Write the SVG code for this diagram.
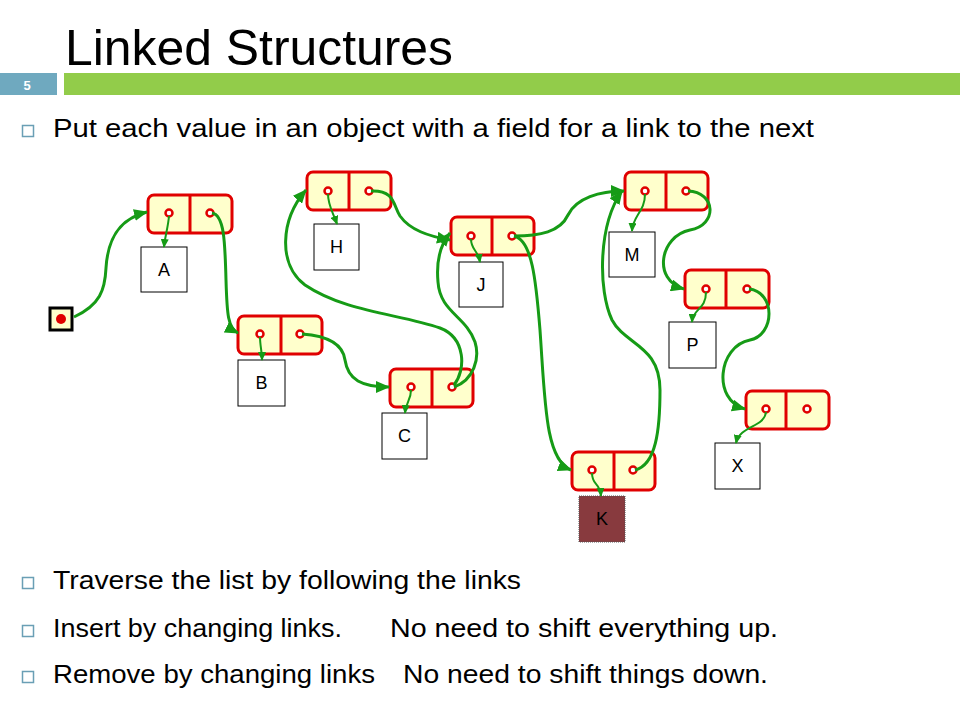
<svg xmlns="http://www.w3.org/2000/svg" width="960" height="720" viewBox="0 0 960 720">
<defs>
<style>
.t{font-family:"Liberation Sans",Arial,sans-serif;fill:#000}
.title{font-size:50px}
.body{font-size:25px}
.lbl{font-size:18px;text-anchor:middle}
.cell{fill:#FFFFCC;stroke:#E00000;stroke-width:3}
.div{stroke:#E00000;stroke-width:3}
.dot{fill:#FFFFFF;stroke:#E00000;stroke-width:2.5}
.val{fill:#FFFFFF;stroke:#000;stroke-width:1}
.lk{fill:none;stroke:#169B16;stroke-width:3;marker-end:url(#ah)}
.vl{fill:none;stroke:#169B16;stroke-width:2;marker-end:url(#as)}
.bul{fill:none;stroke:#6A9FB5;stroke-width:1.5}
</style>
<marker id="ah" markerWidth="14" markerHeight="12" refX="13" refY="6" orient="auto" markerUnits="userSpaceOnUse"><path d="M0,0 L14,6 L0,12 z" fill="#169B16"/></marker>
<marker id="as" markerWidth="9" markerHeight="8" refX="8" refY="4" orient="auto" markerUnits="userSpaceOnUse"><path d="M0,0 L9,4 L0,8 z" fill="#169B16"/></marker>
</defs>
<rect width="960" height="720" fill="#FFFFFF"/>
<g id="header">
<text class="t title" x="65" y="65" textLength="388" lengthAdjust="spacingAndGlyphs">Linked Structures</text>
<rect x="0" y="73" width="57" height="22" fill="#6FA9BF"/>
<text x="27" y="90" font-family="Liberation Sans,Arial,sans-serif" font-size="13" font-weight="bold" fill="#FFFFFF" text-anchor="middle">5</text>
<rect x="64" y="73" width="896" height="22" fill="#92CC4A"/>
</g>
<g id="bullets">
<rect class="bul" x="22.5" y="125.5" width="11" height="11"/>
<text class="t body" x="53" y="137" textLength="761" lengthAdjust="spacingAndGlyphs">Put each value in an object with a field for a link to the next</text>
<rect class="bul" x="22.5" y="577.5" width="11" height="11"/>
<text class="t body" x="53" y="589" textLength="468" lengthAdjust="spacingAndGlyphs">Traverse the list by following the links</text>
<rect class="bul" x="22.5" y="625.5" width="11" height="11"/>
<text class="t body" y="637"><tspan x="53" textLength="289" lengthAdjust="spacingAndGlyphs">Insert by changing links.</tspan><tspan x="390" textLength="388" lengthAdjust="spacingAndGlyphs">No need to shift everything up.</tspan></text>
<rect class="bul" x="22.5" y="671.5" width="11" height="11"/>
<text class="t body" y="683"><tspan x="53" textLength="322" lengthAdjust="spacingAndGlyphs">Remove by changing links</tspan><tspan x="403" textLength="365" lengthAdjust="spacingAndGlyphs">No need to shift things down.</tspan></text>
</g>
<g id="start">
<rect x="50" y="308" width="22" height="22" fill="#FFFFCC" stroke="#000" stroke-width="3"/>
<circle cx="61" cy="319" r="5" fill="#E00000"/>
</g>
<g id="node-A">
<rect class="cell" x="148" y="195" width="84" height="38" rx="6"/>
<line class="div" x1="190" y1="195" x2="190" y2="233"/>
<circle class="dot" cx="169" cy="213" r="3.5"/><circle class="dot" cx="210" cy="213" r="3.5"/>
<rect class="val" x="141" y="247" width="46" height="45"/>
<text class="t lbl" x="164" y="276">A</text>
</g>
<g id="node-B">
<rect class="cell" x="238" y="316" width="84" height="38" rx="6"/>
<line class="div" x1="281" y1="316" x2="281" y2="354"/>
<circle class="dot" cx="260" cy="334" r="3.5"/><circle class="dot" cx="300" cy="334" r="3.5"/>
<rect class="val" x="238" y="360" width="47" height="46"/>
<text class="t lbl" x="261.5" y="389">B</text>
</g>
<g id="node-H">
<rect class="cell" x="307" y="172" width="84" height="38" rx="6"/>
<line class="div" x1="349" y1="172" x2="349" y2="210"/>
<circle class="dot" cx="328" cy="191" r="3.5"/><circle class="dot" cx="369" cy="191" r="3.5"/>
<rect class="val" x="314" y="224" width="45" height="46"/>
<text class="t lbl" x="336.5" y="253">H</text>
</g>
<g id="node-J">
<rect class="cell" x="451" y="217" width="83" height="38" rx="6"/>
<line class="div" x1="492" y1="217" x2="492" y2="255"/>
<circle class="dot" cx="471" cy="236" r="3.5"/><circle class="dot" cx="512" cy="236" r="3.5"/>
<rect class="val" x="459" y="262" width="44" height="45"/>
<text class="t lbl" x="481" y="291">J</text>
</g>
<g id="node-C">
<rect class="cell" x="390" y="369" width="83" height="38" rx="6"/>
<line class="div" x1="432" y1="369" x2="432" y2="407"/>
<circle class="dot" cx="411" cy="387" r="3.5"/><circle class="dot" cx="452" cy="387" r="3.5"/>
<rect class="val" x="382" y="413" width="45" height="46"/>
<text class="t lbl" x="404.5" y="442">C</text>
</g>
<g id="node-M">
<rect class="cell" x="625" y="172" width="83" height="38" rx="6"/>
<line class="div" x1="666" y1="172" x2="666" y2="210"/>
<circle class="dot" cx="645" cy="191" r="3.5"/><circle class="dot" cx="686" cy="191" r="3.5"/>
<rect class="val" x="609" y="232" width="46" height="45"/>
<text class="t lbl" x="632" y="261">M</text>
</g>
<g id="node-P">
<rect class="cell" x="685" y="270" width="84" height="38" rx="6"/>
<line class="div" x1="726" y1="270" x2="726" y2="308"/>
<circle class="dot" cx="706" cy="289" r="3.5"/><circle class="dot" cx="747" cy="289" r="3.5"/>
<rect class="val" x="669" y="322" width="47" height="46"/>
<text class="t lbl" x="692.5" y="351">P</text>
</g>
<g id="node-X">
<rect class="cell" x="746" y="391" width="83" height="38" rx="6"/>
<line class="div" x1="786" y1="391" x2="786" y2="429"/>
<circle class="dot" cx="766" cy="409" r="3.5"/><circle class="dot" cx="807" cy="409" r="3.5"/>
<rect class="val" x="715" y="443" width="45" height="46"/>
<text class="t lbl" x="737.5" y="472">X</text>
</g>
<g id="node-K">
<rect class="cell" x="572" y="452" width="83" height="38" rx="6"/>
<line class="div" x1="614" y1="452" x2="614" y2="490"/>
<circle class="dot" cx="592" cy="470" r="3.5"/><circle class="dot" cx="633" cy="470" r="3.5"/>
<rect x="579" y="496" width="46" height="46" fill="#883A3E" stroke="#555" stroke-width="1" stroke-dasharray="1 1"/>
<text class="t lbl" x="602" y="525">K</text>
</g>
<g id="connectors">
<path class="lk" d="M74,317 C100,305 105,290 106,268 C108,235 122,218 147,212"/>
<path class="lk" d="M212,213 C224,215 225,240 226,280 C227,315 228,328 238,333"/>
<path class="lk" d="M302,334 C330,336 343,345 345,360 C348,380 362,387 389,387"/>
<path class="lk" d="M454,385 C466,370 466,338 440,328 C400,314 345,312 305,285 C278,265 280,220 306,190"/>
<path class="lk" d="M454,387 C474,380 480,358 475,342 C466,316 440,312 438,282 C436,260 440,245 450,233"/>
<path class="lk" d="M371,191 C395,190 393,205 400,216 C410,230 428,236 450,240"/>
<path class="lk" d="M514,236 C540,236 560,232 568,215 C576,198 600,191 624,191"/>
<path class="lk" d="M514,236 C532,240 536,280 540,330 C545,400 545,460 571,470"/>
<path class="lk" d="M635,470 C656,465 660,430 660,390 C660,345 625,345 612,320 C598,290 598,225 622,191"/>
<path class="lk" d="M688,191 C716,192 718,225 690,230 C660,236 652,280 684,289"/>
<path class="lk" d="M749,289 C776,292 775,335 750,340 C718,346 712,400 745,409"/>
<path class="vl" d="M169,216 C168,228 165,236 164,247"/>
<path class="vl" d="M260,337 C260,345 262,352 262,360"/>
<path class="vl" d="M328,194 C328,205 332,210 337,224"/>
<path class="vl" d="M471,239 C471,250 478,250 480,262"/>
<path class="vl" d="M411,390 C411,400 406,402 405,413"/>
<path class="vl" d="M645,194 C645,212 633,215 632,231"/>
<path class="vl" d="M706,292 C706,310 693,308 692,322"/>
<path class="vl" d="M766,412 C764,428 740,425 736,443"/>
<path class="vl" d="M592,473 C592,486 600,482 601,496"/>
</g>
</svg>
